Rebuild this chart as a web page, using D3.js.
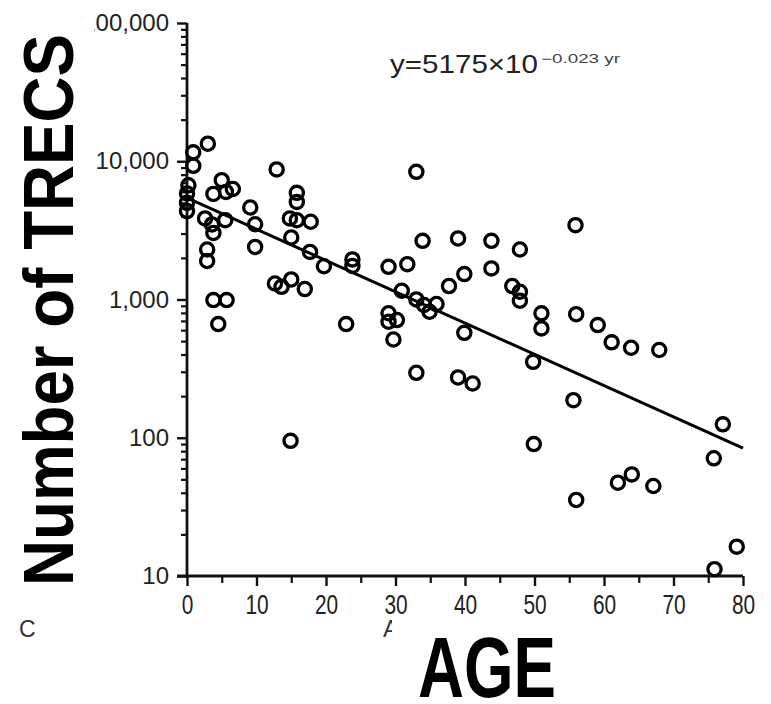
<!DOCTYPE html>
<html>
<head>
<meta charset="utf-8">
<script src="https://cdn.jsdelivr.net/npm/d3@7"></script>
<style>
  html, body { margin: 0; padding: 0; background: #fff; }
  svg { display: block; }
</style>
</head>
<body>
<svg id="chart" width="771" height="704"></svg>
<script>
// ---- data (age in years, number of TRECs) ----
const ages = [0.9, 0.9, 3.0, 0.2, 0, 0, 0,
  3.8, 5.0, 5.6, 6.6,
  9.1, 9.8, 9.8,
  2.6, 3.6, 3.8, 5.5,
  2.9, 2.9,
  3.8, 5.7, 4.5,
  12.9,
  15.8, 15.8, 14.8, 15.8, 17.8, 15.0,
  17.7, 19.7, 23.8, 23.8,
  12.65, 13.6, 15.0, 16.95,
  22.9, 14.9,
  33.0, 33.9, 39.0, 43.8, 47.9,
  29.0, 31.7, 39.9, 37.7, 43.8,
  46.8, 47.9, 47.9,
  30.9, 33.0, 34.9, 35.9, 34.1,
  51.0, 51.0,
  29.0, 30.2, 29.0, 29.7,
  39.9,
  33.0, 39.0, 41.1, 49.8, 55.6, 49.9,
  56.0, 59.1, 61.1, 63.9, 67.95,
  77.1, 75.8, 62.0, 64.0, 67.1, 56.0, 79.1, 75.9,
  55.9];
const trecs = [11600, 9270, 13400, 6700, 5850, 5000, 4360,
  5800, 7300, 6000, 6300,
  4630, 3500, 2400,
  3860, 3490, 3030, 3750,
  2300, 1900,
  990, 990, 664,
  8730,
  5910, 5080, 3860, 3750, 3650, 2810,
  2210, 1740, 1950, 1750,
  1306, 1235, 1397, 1190,
  664, 95,
  8380, 2655, 2765, 2655, 2300,
  1722, 1802, 1527, 1251, 1678,
  1251, 1137, 980,
  1157, 1002, 815, 927, 912,
  794, 618,
  795, 710, 690, 514,
  574,
  295, 273, 247, 354, 187, 90,
  783, 653, 490, 448, 431,
  125, 71, 47.3, 54.3, 44.8, 35.5, 16.3, 11.2,
  3450];
// regression line endpoints as drawn (age, TRECs)
const fitAges = [0, 80];
const fitTrecs = [5430, 84];
const yMajorTicks = [10, 100, 1000, 10000, 100000];
const yTickLabels = ["10", "100", "1,000", "10,000", "100,000"];
const xMajorTicks = [0, 10, 20, 30, 40, 50, 60, 70, 80];
const xMinorTicks = [5, 15, 25, 35, 45, 55, 65, 75];
const equationMain = "y=5175\u00D710";
const equationExp = "\u22120.023 yr";
const yTitle = "Number of TRECS";
const xTitle = "AGE";
const origXTitle = "Age (years)";
const panelLabel = "C";

// ---- drawing ----
const svg = d3.select("#chart");
const x = d3.scaleLinear().domain([0, 80]).range([187, 743]);
const y = d3.scaleLog().domain([10, 100000]).range([576, 23]);

const ink = "#111";
const tickFont = "'Liberation Sans', Arial, sans-serif";

// minor log ticks
const yMinor = [];
for (let d = 10; d < 100000; d *= 10) for (let k = 2; k <= 9; k++) yMinor.push(d * k);

const yAxis = svg.append("g").attr("transform", `translate(${x(0)},0)`)
  .call(d3.axisLeft(y).tickValues(yMajorTicks).tickSize(10).tickPadding(8)
    .tickFormat((d, i) => yTickLabels[i]));
yAxis.select(".domain").remove();
yAxis.selectAll("line").attr("stroke", ink).attr("stroke-width", 2.4);
yAxis.selectAll("text").attr("font-family", tickFont).attr("font-size", 24).attr("fill", "#222");

const yAxisMinor = svg.append("g").attr("transform", `translate(${x(0)},0)`)
  .call(d3.axisLeft(y).tickValues(yMinor).tickSize(6).tickFormat(""));
yAxisMinor.select(".domain").remove();
yAxisMinor.selectAll("line").attr("stroke", ink).attr("stroke-width", 2.2);

const xAxis = svg.append("g").attr("transform", `translate(0,${y(10)})`)
  .call(d3.axisBottom(x).tickValues(xMajorTicks).tickSize(10).tickPadding(4).tickFormat(d3.format("d")));
xAxis.select(".domain").remove();
xAxis.selectAll("line").attr("stroke", ink).attr("stroke-width", 2.4);
xAxis.selectAll("text").attr("font-family", tickFont).attr("font-size", 22).attr("fill", "#222")
  .attr("transform", "translate(0,1) scale(0.95,1.25)");

const xAxisMinor = svg.append("g").attr("transform", `translate(0,${y(10)})`)
  .call(d3.axisBottom(x).tickValues(xMinorTicks).tickSize(7).tickFormat(""));
xAxisMinor.select(".domain").remove();
xAxisMinor.selectAll("line").attr("stroke", ink).attr("stroke-width", 2.2);

// axis lines
svg.append("line").attr("x1", x(0)).attr("x2", x(0)).attr("y1", y(100000)).attr("y2", y(10))
  .attr("stroke", ink).attr("stroke-width", 2.8);
svg.append("line").attr("x1", x(0) - 10).attr("x2", x(80)).attr("y1", y(10)).attr("y2", y(10))
  .attr("stroke", ink).attr("stroke-width", 2.8);

// regression line
svg.append("line")
  .attr("x1", x(fitAges[0])).attr("y1", y(fitTrecs[0]))
  .attr("x2", x(fitAges[1])).attr("y2", y(fitTrecs[1]))
  .attr("stroke", "#000").attr("stroke-width", 3);

// points
svg.append("g").selectAll("circle").data(ages.map((a, i) => [a, trecs[i]])).join("circle")
  .attr("cx", d => x(d[0])).attr("cy", d => y(d[1])).attr("r", 6.6)
  .attr("fill", "none").attr("stroke", "#000").attr("stroke-width", 3.3);

// equation
svg.append("text").attr("x", 390).attr("y", 73)
  .attr("font-family", tickFont).attr("font-size", 25).attr("fill", "#222")
  .attr("textLength", 148).attr("lengthAdjust", "spacingAndGlyphs")
  .text(equationMain);
svg.append("text").attr("x", 541).attr("y", 63).attr("font-family", tickFont)
  .attr("font-size", 12).attr("fill", "#444").attr("textLength", 79).attr("lengthAdjust", "spacingAndGlyphs")
  .text(equationExp);

// original small labels (partly covered)
svg.append("text").attr("x", 19).attr("y", 637).attr("font-family", tickFont)
  .attr("font-size", 23).attr("fill", "#333").text(panelLabel);
svg.append("clipPath").attr("id", "clipA").append("rect")
  .attr("x", 370).attr("y", 600).attr("width", 22).attr("height", 50);
svg.append("text").attr("x", 383).attr("y", 637).attr("font-family", tickFont)
  .attr("font-size", 24).attr("fill", "#333").attr("clip-path", "url(#clipA)").text(origXTitle);

// white box behind the big overlay y label
svg.append("rect").attr("x", 0).attr("y", 0).attr("width", 94).attr("height", 600).attr("fill", "#fff");

// big titles
svg.append("text")
  .attr("transform", "translate(73,586) rotate(-90)")
  .attr("font-family", "'Liberation Sans', Arial, sans-serif").attr("font-weight", "bold")
  .attr("font-size", 70).attr("fill", "#000")
  .attr("textLength", 552).attr("lengthAdjust", "spacingAndGlyphs")
  .text(yTitle);
svg.append("text").attr("x", 418).attr("y", 697)
  .attr("font-family", "'Liberation Sans', Arial, sans-serif").attr("font-weight", "bold")
  .attr("font-size", 85).attr("fill", "#000")
  .attr("textLength", 138).attr("lengthAdjust", "spacingAndGlyphs")
  .text(xTitle);
</script>
</body>
</html>
